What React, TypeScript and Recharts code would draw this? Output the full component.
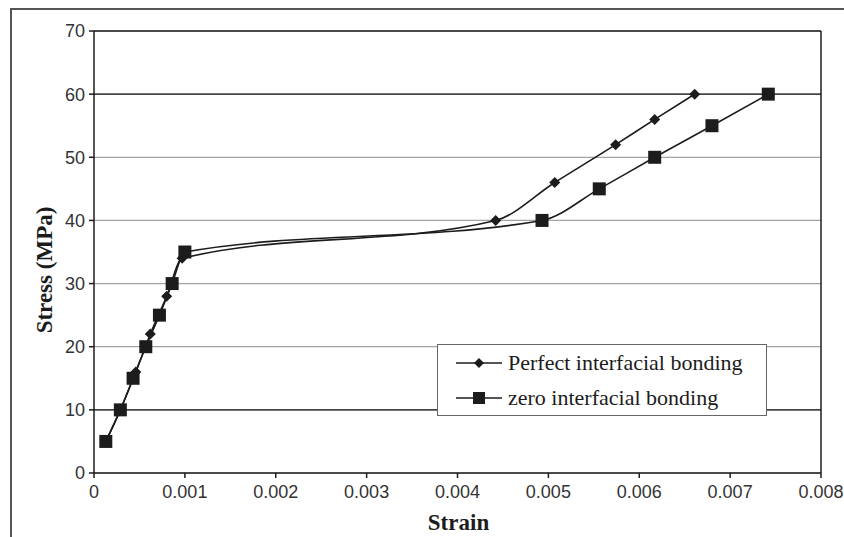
import React from "react";
import {
  LineChart,
  Line,
  XAxis,
  YAxis,
  CartesianGrid,
  ReferenceLine,
  Legend,
} from "recharts";

// values
const perfectStrain = [0.00013, 0.00029, 0.00046, 0.00062, 0.0008, 0.00097, 0.00442, 0.00507, 0.00574, 0.00617, 0.00661];
const perfectStress = [5, 10, 16, 22, 28, 34, 40, 46, 52, 56, 60];
const zeroStrain = [0.00013, 0.00029, 0.00043, 0.00057, 0.00072, 0.00086, 0.001, 0.00493, 0.00556, 0.00617, 0.0068, 0.00742];
const zeroStress = [5, 10, 15, 20, 25, 30, 35, 40, 45, 50, 55, 60];
const strainTicks = [0, 0.001, 0.002, 0.003, 0.004, 0.005, 0.006, 0.007, 0.008];
const stressTicks = [0, 10, 20, 30, 40, 50, 60, 70];

const perfectData = perfectStrain.map((strain, i) => ({ strain, stress: perfectStress[i] }));
const zeroData = zeroStrain.map((strain, i) => ({ strain, stress: zeroStress[i] }));

const INK = "#1c1c1c";
const tickStyle = { fontFamily: "'Liberation Sans', Arial, sans-serif", fontSize: 18, fill: "#333" };
const serif = "'Liberation Serif', 'Times New Roman', serif";

function Diamond({ cx, cy, size = 5.5 }: { cx: number; cy: number; size?: number }) {
  return (
    <polygon
      points={`${cx},${cy - size} ${cx + size},${cy} ${cx},${cy + size} ${cx - size},${cy}`}
      fill={INK}
    />
  );
}

function Square({ cx, cy, size = 13 }: { cx: number; cy: number; size?: number }) {
  return <rect x={cx - size / 2} y={cy - size / 2} width={size} height={size} fill={INK} />;
}

function StressTitle(props: any) {
  const { viewBox } = props;
  const cx = viewBox.x + 44;
  const cy = viewBox.y + viewBox.height / 2 + 18;
  return (
    <text
      x={cx}
      y={cy}
      transform={`rotate(-90 ${cx} ${cy})`}
      textAnchor="middle"
      dominantBaseline="central"
      fontFamily={serif}
      fontWeight="bold"
      fontSize={23}
      fill={INK}
    >
      Stress (MPa)
    </text>
  );
}

function StrainTitle(props: any) {
  const { viewBox } = props;
  return (
    <text
      x={viewBox.x + viewBox.width / 2 + 1}
      y={viewBox.y + 57}
      textAnchor="middle"
      fontFamily={serif}
      fontWeight="bold"
      fontSize={23}
      fill={INK}
    >
      Strain
    </text>
  );
}

function LegendBox() {
  const rows = [
    { label: "Perfect interfacial bonding", marker: <Diamond cx={23} cy={10} size={5} /> },
    { label: "zero interfacial bonding", marker: <Square cx={23} cy={10} size={12} /> },
  ];
  return (
    <div
      style={{
        width: 330,
        height: 72,
        border: "1px solid #666",
        background: "#fff",
        boxSizing: "border-box",
        paddingTop: 0,
      }}
    >
      {rows.map((r) => (
        <div key={r.label} style={{ display: "flex", alignItems: "center", height: 35 }}>
          <svg width={66} height={20} style={{ marginLeft: 18 }}>
            <line x1={0} y1={10} x2={46} y2={10} stroke={INK} strokeWidth={1.5} />
            {r.marker}
          </svg>
          <span style={{ fontFamily: serif, fontSize: 22, color: INK, marginLeft: -14, lineHeight: "35px" }}>
            {r.label}
          </span>
        </div>
      ))}
    </div>
  );
}

export default function App() {
  return (
    <div style={{ position: "absolute", left: 0, top: 0, width: 844, height: 537, background: "#fff" }}>
      <LineChart width={844} height={537} margin={{ top: 31, right: 23, left: 0, bottom: 34 }}>
        <CartesianGrid horizontal vertical={false} stroke="#a3a3a3" strokeWidth={1.2} />
        <XAxis
          type="number"
          dataKey="strain"
          domain={[0, 0.008]}
          ticks={strainTicks}
          tickFormatter={(v: number) => (v === 0 ? "0" : v.toFixed(3))}
          stroke={INK}
          strokeWidth={1.5}
          tickSize={5}
          tickMargin={7}
          tick={tickStyle}
          height={30}
          allowDataOverflow
          label={<StrainTitle />}
        />
        <YAxis
          type="number"
          dataKey="stress"
          domain={[0, 70]}
          ticks={stressTicks}
          stroke={INK}
          strokeWidth={1.5}
          tickSize={5}
          tickMargin={4}
          tick={tickStyle}
          width={94}
          label={<StressTitle />}
        />
        <ReferenceLine y={10} stroke={INK} strokeWidth={1.3} />
        <ReferenceLine y={60} stroke={INK} strokeWidth={1.3} />
        <ReferenceLine y={70} stroke={INK} strokeWidth={1.3} />
        <ReferenceLine x={0.008} stroke={INK} strokeWidth={1.5} />
        <Legend
          layout="vertical"
          align="center"
          verticalAlign="middle"
          wrapperStyle={{ left: 437, top: 344, width: 330 }}
          content={() => <LegendBox />}
        />
        <Line
          data={perfectData}
          dataKey="stress"
          name="Perfect interfacial bonding"
          type="monotone"
          stroke={INK}
          strokeWidth={1.6}
          isAnimationActive={false}
          dot={(p: any) => <Diamond key={`d${p.index}`} cx={p.cx} cy={p.cy} />}
        />
        <Line
          data={zeroData}
          dataKey="stress"
          name="zero interfacial bonding"
          type="monotone"
          stroke={INK}
          strokeWidth={1.6}
          isAnimationActive={false}
          dot={(p: any) => <Square key={`s${p.index}`} cx={p.cx} cy={p.cy} />}
        />
      </LineChart>
      <div
        style={{
          position: "absolute",
          left: 10,
          top: 8,
          width: 834,
          height: 529,
          borderTop: "2px solid #555",
          borderLeft: "2px solid #555",
          boxSizing: "border-box",
          pointerEvents: "none",
        }}
      />
    </div>
  );
}
